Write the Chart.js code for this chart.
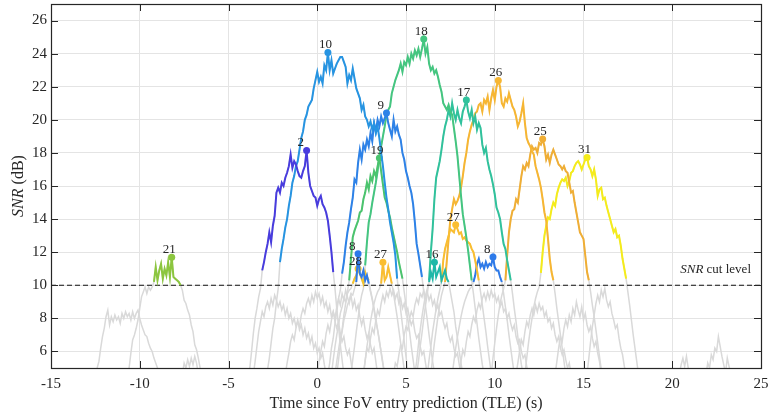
<!DOCTYPE html>
<html>
<head>
<meta charset="utf-8">
<script src="https://cdn.jsdelivr.net/npm/chart.js@4.4.1/dist/chart.umd.min.js"></script>
<style>
  html, body { margin: 0; padding: 0; background: #fff; }
</style>
</head>
<body>
<canvas id="snrChart" width="771" height="419"></canvas>
<script>
// SNR samples every DT seconds, starting at passStart[i]
const DT = 0.1;
const cutLevel = 10;
const xTicks = [-15, -10, -5, 0, 5, 10, 15, 20, 25];
const yTicks = [6, 8, 10, 12, 14, 16, 18, 20, 22, 24, 26];

// passes that go over the cut level (labelled by satellite number)
const passLabels = ['21', '2', '10', '9', '19', '18', '8', '28', '27', '16', '17', '27', '8', '26', '25', '31'];
const passStart = [-10.7, -3.9, -2.9, 0.6, 1.1, 1.9, 1.0, 0.8, 2.6, 5.5, 5.6, 6.2, 7.6, 6.4, 9.8, 11.7];

const snr21 = [4.6,5.0,5.9,6.7,7.0,7.4,7.9,8.6,9.3,9.6,9.9,9.5,9.9,9.7,9.9,10.2,11.1,10.3,10.9,11.3,10.4,11.0,10.6,11.4,10.5,11.7,10.5,10.4,10.3,10.2,10.0,9.7,9.1,8.9,8.5,8.2,7.6,7.2,6.4,6.1,5.6,5.0,4.6];
const snr2 = [4.5,5.0,6.0,7.1,8.0,8.6,9.3,9.8,10.9,11.4,12.0,12.5,13.2,12.6,13.6,14.2,15.6,15.9,15.6,16.2,16.0,16.5,16.8,17.2,17.9,17.1,17.5,17.3,16.9,16.6,16.5,16.9,17.2,18.15,16.8,16.0,15.7,15.4,15.3,14.8,15.2,15.4,14.9,14.7,14.4,13.9,13.0,12.0,10.8,9.8,8.6,7.5,6.4,5.5,4.6];
const snr10 = [4.5,4.9,5.6,6.5,7.4,8.0,9.0,9.8,11.4,12.2,12.8,13.5,14.0,14.8,15.4,16.2,16.6,17.2,17.5,18.2,18.9,19.3,20.0,20.3,20.8,21.0,21.2,21.9,22.4,22.9,22.3,22.6,22.2,23.3,23.0,24.07,23.0,23.6,22.8,23.1,23.4,23.6,23.8,23.8,23.5,23.2,22.2,22.7,22.4,23.1,22.5,21.9,21.6,21.3,20.6,20.9,20.2,20.0,19.6,19.9,19.4,19.8,19.2,19.6,18.9,18.0,17.2,16.2,15.3,14.6,13.8,13.2,12.6,11.8,10.4,9.6,8.5,7.6,6.6,5.7,4.8];
const snr9 = [4.6,5.3,6.2,6.8,7.7,8.4,9.2,9.7,10.7,11.4,12.4,13.2,13.8,14.6,15.3,16.4,16.2,17.4,18.2,17.6,18.5,18.2,18.8,18.4,19.2,18.7,19.8,19.3,20.0,19.6,20.2,19.8,20.1,20.41,19.8,19.4,19.0,20.0,19.3,19.6,19.1,18.8,18.0,17.6,16.9,16.5,16.0,15.6,14.9,13.8,12.5,11.9,11.2,10.5,9.6,8.7,7.9,7.0,6.2,5.4,4.7];
const snr19 = [4.6,5.5,6.4,7.3,8.2,8.9,9.6,10.3,11.6,12.9,13.3,13.6,13.9,14.4,14.5,15.2,15.6,16.2,15.8,16.6,16.3,16.9,16.6,17.2,17.69,16.9,16.1,15.3,15.0,14.5,14.1,13.5,13.0,12.5,12.0,11.4,10.9,10.4,9.6,8.8,7.9,7.2,6.3,5.5,4.7];
const snr18 = [4.6,5.5,6.3,7.2,8.0,8.8,9.4,9.8,11.2,12.6,13.8,14.3,15.0,15.6,16.2,16.9,17.8,18.4,19.0,19.6,20.3,20.6,20.8,21.6,22.0,22.4,22.7,23.0,23.4,22.9,23.5,23.3,23.8,23.4,24.0,23.7,24.2,23.9,24.3,23.8,24.3,24.88,24.0,24.4,23.4,23.0,23.2,22.8,23.0,22.6,22.1,21.7,21.0,20.8,20.6,20.9,20.5,20.3,19.5,18.7,17.8,16.6,15.4,14.3,13.6,12.9,12.1,11.2,10.3,9.5,8.6,7.7,6.8,6.0,5.2,4.6];
const snr8a = [4.6,5.4,6.1,6.8,7.2,7.9,8.3,8.8,9.1,9.5,9.4,9.8,10.2,11.9,10.7,10.5,10.9,10.3,10.6,10.1,9.6,9.1,8.5,7.8,7.3,6.6,6.0,5.3,4.6];
const snr28 = [4.6,5.5,6.3,7.0,7.6,8.3,8.7,9.2,9.0,9.5,9.7,9.8,10.1,10.4,10.6,11.0,10.7,10.4,10.1,10.8,10.5,10.3,9.7,9.2,8.6,8.0,7.3,6.7,5.9,5.2,4.6];
const snr27a = [4.6,5.4,6.3,7.0,7.8,8.4,8.9,9.3,9.6,9.8,10.1,11.39,10.3,10.5,11.1,10.6,10.1,9.5,8.8,8.1,7.3,6.5,5.7,4.9,4.5];
const snr16 = [4.6,5.4,6.4,7.3,8.1,8.8,9.4,9.8,10.2,10.8,10.4,11.39,10.5,10.8,11.1,10.3,10.6,10.9,10.4,10.2,9.6,9.0,8.4,7.5,6.8,6.0,5.3,4.6];
const snr17 = [4.6,5.4,6.3,7.1,8.0,8.8,9.5,10.3,12.0,13.4,15.2,16.5,17.0,17.5,18.2,19.0,19.6,20.0,20.6,20.2,21.0,20.4,20.0,20.6,20.1,19.8,20.5,20.8,21.2,20.5,20.1,20.6,19.8,20.2,19.4,19.8,19.5,18.5,18.0,18.3,17.5,17.0,16.6,16.1,15.5,14.7,14.4,14.0,13.2,12.5,12.2,11.5,10.9,10.3,9.5,8.6,7.8,6.9,6.0,5.2,4.6];
const snr27b = [4.6,5.5,6.3,7.2,7.9,8.6,9.2,9.7,10.2,11.5,12.2,12.6,13.0,13.4,13.3,13.2,13.66,13.4,13.1,13.2,12.8,12.9,12.7,12.6,12.5,12.2,12.0,11.5,10.9,10.3,9.6,8.8,8.0,7.2,6.3,5.5,4.7];
const snr8b = [4.6,5.4,6.2,6.9,7.5,8.1,8.6,9.0,9.3,9.6,9.8,9.9,10.2,10.6,11.3,11.6,11.1,11.3,11.0,11.4,11.1,11.3,11.2,11.71,11.1,10.9,10.9,10.5,10.2,9.5,8.7,7.9,7.0,6.2,5.4,4.6];
const snr26 = [4.6,5.6,6.5,7.3,8.1,8.8,9.4,9.8,10.2,11.5,12.8,14.0,14.6,15.2,14.9,15.1,15.4,15.9,16.6,17.4,18.0,18.8,19.3,19.7,20.0,20.4,20.5,20.9,21.0,20.5,21.2,21.0,21.4,20.6,21.3,21.8,21.2,22.0,22.38,22.0,21.0,20.8,21.3,21.1,21.6,21.2,20.8,20.6,20.2,19.6,19.9,20.4,21.0,19.8,18.9,18.6,18.4,18.1,17.9,17.2,16.8,16.4,15.9,15.2,14.4,13.9,12.8,11.6,10.8,10.3,9.5,8.6,7.8,7.0,6.2,5.4,4.6];
const snr25 = [4.6,5.6,6.5,7.4,8.2,8.9,9.4,9.8,10.3,11.8,13.2,14.0,14.5,14.6,15.2,15.0,15.8,16.6,17.2,17.0,17.4,17.2,17.9,18.4,18.2,18.3,18.0,18.6,18.5,18.84,18.4,17.6,17.9,17.4,17.9,18.2,17.9,17.6,17.3,17.2,17.0,17.2,16.9,16.8,16.2,15.6,15.7,15.0,14.4,13.8,13.2,13.0,12.8,11.8,10.8,10.3,9.6,8.8,8.1,7.3,6.5,5.7,4.9,4.5];
const snr31 = [4.6,5.6,6.5,7.3,8.0,8.7,9.2,9.6,9.9,10.75,12.0,13.0,13.6,14.1,14.0,14.6,15.0,14.8,15.5,15.9,16.2,16.4,16.3,16.5,16.0,16.3,16.8,16.9,17.2,17.4,17.5,17.3,17.0,17.3,17.6,17.73,17.2,17.0,16.6,17.0,16.4,15.4,15.8,15.9,15.2,15.3,14.8,14.4,14.0,13.6,13.2,13.4,12.9,13.0,12.4,11.6,11.0,10.4,9.6,8.8,7.9,7.0,6.2,5.4,4.6];

const passSnr = [snr21, snr2, snr10, snr9, snr19, snr18, snr8a, snr28, snr27a, snr16, snr17, snr27b, snr8b, snr26, snr25, snr31];

// passes that stay under the cut level
const bgStart = [-12.5, -7.6, -3.6, -1.8, 0.0, 2.6, 4.3, 8.0, 11.2, 13.4, 15.2, 20.4, 21.9];
const bgSnr = [
  [4.5,5.0,5.4,6.2,6.9,7.4,8.1,8.5,7.6,8.1,7.8,8.2,7.9,8.1,7.7,8.3,8.0,8.4,8.1,8.3,7.9,8.4,8.0,8.3,8.5,8.0,7.6,7.3,7.0,6.9,6.5,6.2,6.0,5.6,5.3,5.0,4.6],
  [4.6,5.3,5.0,5.5,5.1,5.6,5.2,5.7,5.3,4.6],
  [4.6,5.4,6.3,7.2,7.8,8.4,8.1,8.7,9.0,8.6,9.2,8.8,9.4,9.1,8.7,9.0,8.5,8.8,8.2,8.6,8.0,8.3,7.7,8.0,7.5,7.9,7.3,7.6,7.0,7.4,6.8,7.1,6.5,6.9,6.2,6.5,5.9,6.2,5.6,5.9,5.2,4.6],
  [4.6,5.3,5.9,6.6,7.0,6.7,7.4,7.8,7.5,8.2,8.6,8.3,8.9,9.2,8.8,9.4,9.0,9.6,9.2,9.5,8.9,9.3,8.7,9.0,8.4,8.8,8.1,8.4,7.8,7.4,7.8,7.1,6.6,6.9,6.2,5.8,6.1,5.4,4.6],
  [4.6,5.4,6.0,6.6,6.3,7.1,7.6,7.2,7.9,8.4,8.0,8.7,9.2,8.8,9.5,9.1,9.7,9.3,8.9,9.4,8.7,9.1,8.5,8.8,8.1,7.6,8.0,7.3,6.8,7.1,6.4,5.9,6.2,5.4,4.6],
  [4.6,5.5,6.2,6.0,6.8,7.4,7.1,7.9,8.5,8.2,8.9,9.4,9.0,9.6,9.3,9.8,9.4,9.7,9.2,9.5,8.9,9.2,8.6,8.9,8.3,8.6,8.0,7.6,7.9,7.2,6.8,7.0,6.3,5.8,6.0,5.3,4.6],
  [4.6,5.3,5.1,5.8,6.4,6.2,7.0,7.5,7.3,8.0,8.4,8.1,8.8,9.2,8.9,9.5,9.3,9.7,9.2,9.6,9.1,9.4,8.8,9.1,8.5,8.8,8.2,8.4,7.8,7.4,7.7,7.0,6.6,6.9,6.2,5.7,5.9,5.2,4.6],
  [4.6,5.4,6.1,5.8,6.6,7.2,6.9,7.6,8.1,7.8,8.5,8.9,8.6,9.2,9.5,9.1,9.6,9.2,9.7,9.3,9.5,9.0,9.3,8.7,9.0,8.4,8.6,8.0,8.3,7.7,7.3,7.6,6.9,6.5,6.7,6.0,5.6,5.8,5.1,4.6],
  [4.6,5.3,6.0,6.7,6.4,7.2,7.8,7.5,8.2,8.6,8.2,8.8,8.4,8.9,8.5,8.7,8.1,8.4,7.8,8.0,7.4,7.7,7.0,6.6,6.9,6.2,5.8,6.1,5.5,5.0,5.3,4.6],
  [4.6,5.4,6.2,6.9,6.6,7.4,7.9,7.5,8.2,7.8,8.6,8.2,9.0,8.5,8.1,8.7,7.9,8.3,7.6,7.2,7.5,6.8,6.3,6.6,5.9,5.4,4.6],
  [4.6,5.6,6.6,7.5,8.2,8.9,9.4,9.0,9.7,9.3,9.8,9.1,8.7,9.0,8.3,7.9,7.4,7.6,6.8,6.2,5.8,5.1,4.6],
  [4.6,5.2,5.6,5.1,5.7,5.0,4.6],
  [4.6,5.3,5.0,5.8,5.5,6.2,6.0,6.9,6.3,5.7,5.2,4.7,5.6,5.1,4.6]
];

const passColor = {
  '21': 'rgb(140,198,63)', '2': 'rgb(72,60,222)', '10': 'rgb(38,148,226)', '9': 'rgb(45,130,232)',
  '8': 'rgb(45,122,233)', '19': 'rgb(75,196,110)', '18': 'rgb(68,198,128)', '17': 'rgb(48,194,156)',
  '16': 'rgb(30,184,168)', '28': 'rgb(245,196,45)', '27': 'rgb(250,190,48)', '26': 'rgb(247,182,50)',
  '25': 'rgb(240,174,52)', '31': 'rgb(245,236,26)'
};
const GRAY = 'rgb(217,217,217)';
const GRID = 'rgb(228,228,228)';
const INK = 'rgb(38,38,38)';
const SERIF = '"Liberation Serif", "Times New Roman", serif';

const series = (t0, snr) => snr.map((v, i) => ({ x: Math.round((t0 + i * DT) * 100) / 100, y: v }));
const peakOf = snr => snr.indexOf(Math.max(...snr));

const datasets = [];

// coloured part of each pass (only where SNR is above the cut level)
passSnr.forEach((snr, i) => {
  const label = passLabels[i];
  const color = passColor[label];
  const peak = peakOf(snr);
  datasets.push({
    label: label,
    peak: peak,
    data: series(passStart[i], snr),
    borderColor: color,
    borderWidth: 2,
    segment: {
      borderColor: c => (c.p0.parsed.y >= cutLevel && c.p1.parsed.y >= cutLevel) ? color : 'rgba(0,0,0,0)'
    },
    pointRadius: c => c.dataIndex === peak ? 3.5 : 0,
    pointBackgroundColor: color,
    pointBorderWidth: 0,
    clip: 0,
    order: 1
  });
});

datasets.push({
  data: [{ x: -15, y: cutLevel }, { x: 25, y: cutLevel }],
  borderColor: '#111',
  borderWidth: 1.2,
  borderDash: [5, 3],
  pointRadius: 0,
  order: 2
});

// grey: full pass traces, drawn underneath
passSnr.concat(bgSnr).forEach((snr, i) => {
  const t0 = i < passSnr.length ? passStart[i] : bgStart[i - passSnr.length];
  datasets.push({
    data: series(t0, snr),
    borderColor: GRAY,
    borderWidth: 1.5,
    pointRadius: 0,
    clip: 0,
    order: 3
  });
});

const frame = {
  id: 'frame',
  afterDatasetsDraw(chart) {
    const { ctx, chartArea: a, scales: { x, y } } = chart;
    ctx.save();

    // satellite numbers above the peaks
    ctx.fillStyle = INK;
    ctx.font = '13px ' + SERIF;
    ctx.textAlign = 'left';
    ctx.textBaseline = 'alphabetic';
    chart.data.datasets.forEach((ds, i) => {
      if (ds.peak === undefined) return;
      const pt = chart.getDatasetMeta(i).data[ds.peak];
      ctx.fillText(ds.label, pt.x - 9, pt.y - 4);
    });

    // "SNR cut level"
    const cy = y.getPixelForValue(cutLevel) - 12;
    ctx.textAlign = 'left';
    ctx.font = '13px ' + SERIF;
    const restW = ctx.measureText(' cut level').width;
    ctx.font = 'italic 13px ' + SERIF;
    const snrW = ctx.measureText('SNR').width;
    const cx = a.right - 10 - restW - snrW;
    ctx.fillText('SNR', cx, cy);
    ctx.font = '13px ' + SERIF;
    ctx.fillText(' cut level', cx + snrW, cy);

    // box and inward ticks
    ctx.strokeStyle = INK;
    ctx.lineWidth = 1;
    ctx.beginPath();
    xTicks.forEach(v => {
      const px = Math.round(x.getPixelForValue(v)) + 0.5;
      ctx.moveTo(px, a.bottom); ctx.lineTo(px, a.bottom - 7);
      ctx.moveTo(px, a.top); ctx.lineTo(px, a.top + 7);
    });
    yTicks.forEach(v => {
      const py = Math.round(y.getPixelForValue(v)) + 0.5;
      ctx.moveTo(a.left, py); ctx.lineTo(a.left + 7, py);
      ctx.moveTo(a.right, py); ctx.lineTo(a.right - 7, py);
    });
    ctx.stroke();
    ctx.lineWidth = 1.2;
    ctx.strokeRect(Math.round(a.left) + 0.5, Math.round(a.top) + 0.5,
      Math.round(a.right - a.left), Math.round(a.bottom - a.top));

    // axis titles
    ctx.font = '16px ' + SERIF;
    ctx.textAlign = 'center';
    ctx.textBaseline = 'alphabetic';
    ctx.fillText('Time since FoV entry prediction (TLE) (s)', (a.left + a.right) / 2, a.bottom + 40);

    ctx.translate(19, (a.top + a.bottom) / 2);
    ctx.rotate(-Math.PI / 2);
    ctx.textBaseline = 'middle';
    ctx.textAlign = 'left';
    ctx.font = 'italic 16px ' + SERIF;
    const w1 = ctx.measureText('SNR').width;
    ctx.font = '16px ' + SERIF;
    const w2 = ctx.measureText(' (dB)').width;
    const sx = -(w1 + w2) / 2;
    ctx.font = 'italic 16px ' + SERIF;
    ctx.fillText('SNR', sx, 0);
    ctx.font = '16px ' + SERIF;
    ctx.fillText(' (dB)', sx + w1, 0);

    ctx.restore();
  }
};

new Chart(document.getElementById('snrChart'), {
  type: 'line',
  data: { datasets: datasets },
  options: {
    responsive: false,
    animation: false,
    events: [],
    layout: { padding: { top: 4, right: 10, left: 0, bottom: 0 } },
    plugins: { legend: { display: false }, tooltip: { enabled: false } },
    scales: {
      x: {
        type: 'linear',
        min: -15,
        max: 25,
        afterBuildTicks: s => { s.ticks = xTicks.map(v => ({ value: v })); },
        afterFit: s => { s.height = 51; s.paddingLeft = 0; s.paddingRight = 0; },
        grid: { color: GRID, drawTicks: false },
        border: { display: false },
        ticks: { padding: 7, color: INK, maxRotation: 0, font: { family: SERIF, size: 15 } }
      },
      y: {
        type: 'linear',
        min: 5,
        max: 27,
        afterBuildTicks: s => { s.ticks = yTicks.map(v => ({ value: v })); },
        afterFit: s => { s.width = 51; s.paddingTop = 0; s.paddingBottom = 0; },
        grid: { color: GRID, drawTicks: false },
        border: { display: false },
        ticks: { padding: 4, color: INK, font: { family: SERIF, size: 15 } }
      }
    }
  },
  plugins: [frame]
});
</script>
</body>
</html>
